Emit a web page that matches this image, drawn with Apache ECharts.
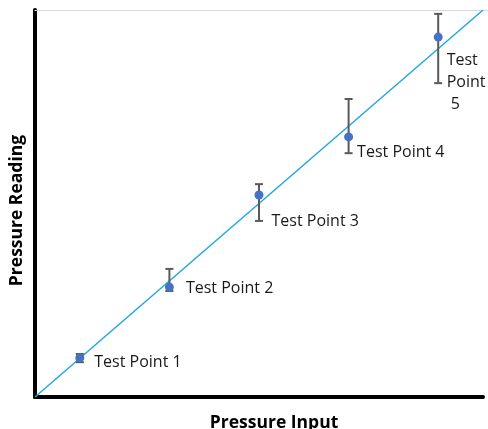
<!DOCTYPE html>
<html><head><meta charset="utf-8">
<script src="https://cdn.jsdelivr.net/npm/echarts@6/dist/echarts.min.js"></script>
<style>html,body{margin:0;padding:0;background:#fff}#c{width:488px;height:429px}</style>
</head><body><div id="c"></div>
<script>
const pointNames = ['Test Point 1','Test Point 2','Test Point 3','Test Point 4','Test\nPoint\n 5'];
const inputValues = [10, 30, 50, 70, 90];
const readingValues = [10.1, 28.4, 52.2, 67.2, 93.0];
const errorLow = [9.0, 27.4, 45.5, 63.0, 81.1];
const errorHigh = [11.1, 33.1, 55.0, 77.0, 99.0];
const idealLine = [[0, 0], [100, 100]];
const xTitle = 'Pressure Input';
const yTitle = 'Pressure Reading';

const FONT = '"Open Sans", "Noto Sans", sans-serif';
const labelStyles = [
  {position: 'right', distance: 10, offset: [0, 5]},
  {position: 'right', distance: 12, offset: [0, 1]},
  {position: 'right', distance: 8, offset: [0, 26]},
  {position: 'right', distance: 4, offset: [0, 16]},
  {position: 'right', distance: 4, offset: [0, 45], lineHeight: 22}
];

const chart = echarts.init(document.getElementById('c'), null, {renderer: 'canvas'});
const grid = {left: 35, right: 5, top: 10, bottom: 32, containLabel: false, outerBoundsMode: 'none'};
chart.setOption({
  animation: false,
  grid: grid,
  xAxis: [{
    type: 'value', min: 0, max: 100,
    name: xTitle, nameLocation: 'middle', nameGap: 17,
    nameTextStyle: {fontFamily: FONT, fontWeight: 'bold', fontSize: 17.5, color: '#000', padding: [0, 0, 0, 30]},
    axisLine: {show: true, lineStyle: {color: '#000', width: 4}},
    axisTick: {show: false}, axisLabel: {show: false}, splitLine: {show: false}
  }, {
    type: 'value', min: 0, max: 100, position: 'top',
    axisLine: {show: true, lineStyle: {color: '#d9d9d9', width: 1}},
    axisTick: {show: false}, axisLabel: {show: false}, splitLine: {show: false}
  }],
  yAxis: {
    type: 'value', min: 0, max: 100,
    name: yTitle, nameLocation: 'middle', nameGap: 9,
    nameTextStyle: {fontFamily: FONT, fontWeight: 'bold', fontSize: 17.5, color: '#000', padding: [0, 14, 0, 0]},
    axisLine: {show: true, lineStyle: {color: '#000', width: 4}},
    axisTick: {show: false}, axisLabel: {show: false}, splitLine: {show: false}
  },
  graphic: [{
    type: 'line', z: 1,
    shape: {x1: 483, y1: 10.5, x2: 488, y2: 10.5},
    style: {stroke: '#d9d9d9', lineWidth: 1}
  }],
  series: [{
    type: 'line', data: idealLine, symbol: 'none', z: 2,
    lineStyle: {color: '#22a7e0', width: 1.5}
  }, {
    type: 'custom', z: 3,
    data: inputValues.map((x, i) => [x, errorLow[i], errorHigh[i]]),
    renderItem: function (params, api) {
      const lo = api.coord([api.value(0), api.value(1)]);
      const hi = api.coord([api.value(0), api.value(2)]);
      const cap = 4;
      const st = {stroke: '#595959', lineWidth: 2};
      return {type: 'group', children: [
        {type: 'line', shape: {x1: lo[0], y1: lo[1], x2: hi[0], y2: hi[1]}, style: st},
        {type: 'line', shape: {x1: lo[0] - cap, y1: lo[1], x2: lo[0] + cap, y2: lo[1]}, style: st},
        {type: 'line', shape: {x1: hi[0] - cap, y1: hi[1], x2: hi[0] + cap, y2: hi[1]}, style: st}
      ]};
    }
  }, {
    type: 'scatter', z: 4, symbolSize: 9,
    itemStyle: {color: '#4472c4', opacity: 1},
    data: inputValues.map((x, i) => ({
      value: [x, readingValues[i]],
      label: Object.assign({
        show: true, formatter: pointNames[i],
        fontFamily: FONT, fontSize: 16, color: '#1a1a1a', align: 'left'
      }, labelStyles[i])
    }))
  }]
});
</script></body></html>
